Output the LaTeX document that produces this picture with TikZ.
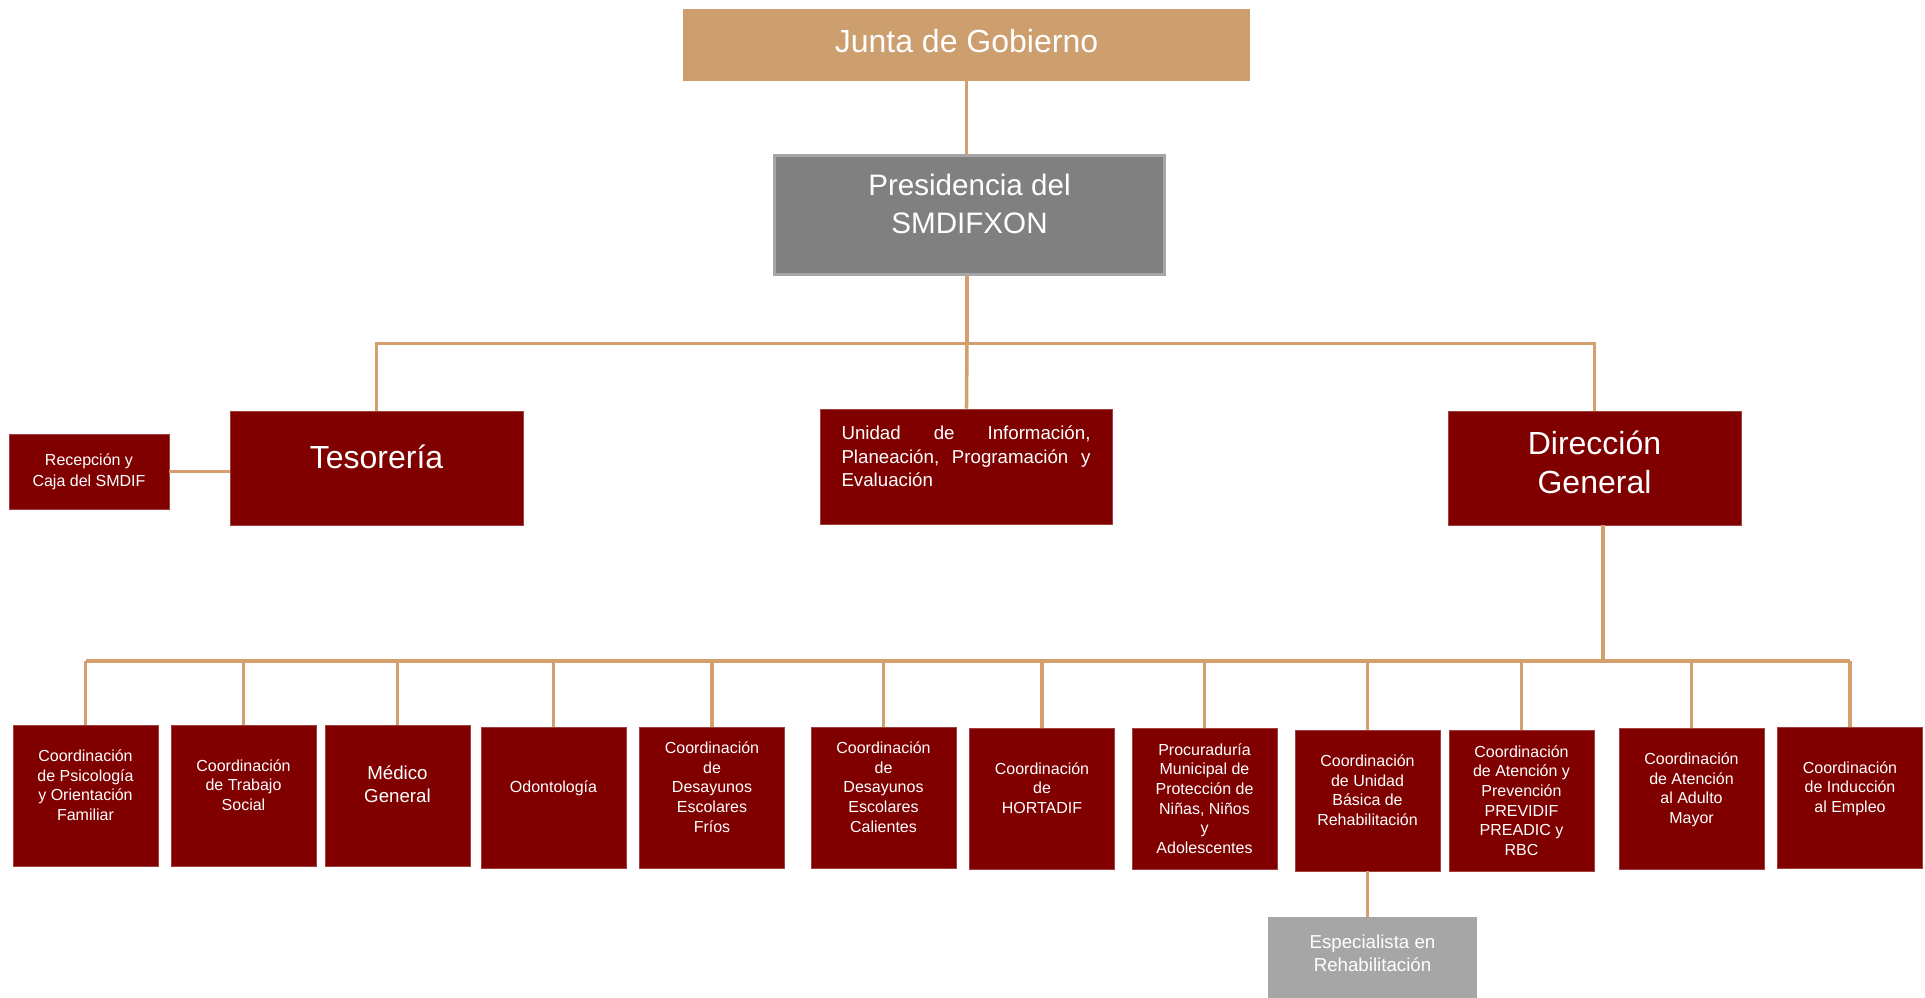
\documentclass[tikz,border=0pt]{standalone}
\usepackage{fontspec}
\setmainfont{Liberation Sans}
\usepackage{tikz}
\definecolor{ktan}{HTML}{CD9E6E}
\definecolor{klink}{HTML}{D3A06D}
\definecolor{kred}{HTML}{800000}
\definecolor{kgrey}{HTML}{808080}
\definecolor{kgreyline}{HTML}{A6A6A6}
\definecolor{kpale}{HTML}{A6A6A6}

\begin{document}
\begin{tikzpicture}[x=1pt, y=-1pt,
  link/.style={draw=klink, line width=3.5pt},
  redbox/.style={fill=kred, draw=kred!75!white, line width=0.6pt, text=white,
    align=center, inner sep=0pt},
  headbox/.style={redbox, minimum width=293pt, minimum height=114pt,
    font=\fontsize{32}{39}\selectfont},
  unitbox/.style={redbox, minimum width=145pt, minimum height=141pt,
    font=\fontsize{16}{19.7}\selectfont, text depth=21pt}]
\useasboundingbox (0,0) rectangle (1925,997);

% top levels
\node[fill=ktan, minimum width=567pt, minimum height=72pt, inner sep=0pt,
  text=white, font=\fontsize{32}{38}\selectfont, text depth=9pt]
  (junta) at (966.5,45) {Junta de Gobierno};
\node[fill=kgrey, draw=kgreyline, line width=3pt, minimum width=390pt,
  minimum height=119pt, inner sep=0pt, text=white, align=center,
  font=\fontsize{29.6}{38}\selectfont, text depth=22pt]
  (pres) at (969.5,215) {Presidencia del\\SMDIFXON};

\node[headbox, text depth=22pt] (teso) at (376.5,468) {Tesorería};
\node[redbox, minimum width=292pt, minimum height=115pt, align=left,
  text width=249pt, font=\fontsize{18.7}{23.7}\selectfont, text depth=68pt]
  (unidad) at (966,466.5)
  {Unidad\hfill de\hfill Información,\\Planeación,\hfill Programación\hfill y\\Evaluación};
\node[headbox, text depth=11pt] (dir) at (1594.5,468) {Dirección\\General};
\node[redbox, minimum width=160pt, minimum height=75pt,
  font=\fontsize{16}{21}\selectfont]
  (recep) at (89,471.5) {Recepción y\\Caja del SMDIF};

\coordinate (hub) at (967,343.5);
\coordinate (hubdg) at (1603,661);

\draw[link] (junta.south) -- (junta.south |- pres.north);
\draw[link] (pres.south -| hub) -- (hub);
\draw[link] (teso.north) |- (hub) -| (dir.north);
\draw[link] (hub) -- (unidad);
\draw[link] (recep.east) -- (recep.east -| teso.west);
\draw[link] (dir.south -| hubdg) -- (hubdg);

% areas under Direccion General
\node[unitbox] (psi) at (85.5,795.5) {Coordinación\\de Psicología\\y Orientación\\Familiar};
\node[unitbox] (tra) at (243.5,795.5) {Coordinación\\de Trabajo\\Social};
\node[unitbox, font=\fontsize{18.7}{23}\selectfont, text depth=23pt]
  (med) at (397.5,795.5) {Médico\\General};
\node[unitbox] (odo) at (553.5,797.5) {Odontología};
\node[unitbox] (fri) at (712,797.5) {Coordinación\\de\\Desayunos\\Escolares\\Fríos};
\node[unitbox] (cal) at (883.5,797.5) {Coordinación\\de\\Desayunos\\Escolares\\Calientes};
\node[unitbox] (hor) at (1042,798.5) {Coordinación\\de\\HORTADIF};
\node[unitbox, text depth=0pt] (pro) at (1204.5,798.5)
  {Procuraduría\\Municipal de\\Protección de\\Niñas, Niños\\y\\Adolescentes};
\node[unitbox] (ubr) at (1367.5,800.5) {Coordinación\\de Unidad\\Básica de\\Rehabilitación};
\node[unitbox, text depth=0pt] (pre) at (1521.5,800.5)
  {Coordinación\\de Atención y\\Prevención\\PREVIDIF\\PREADIC y\\RBC};
\node[unitbox] (adu) at (1691.5,798.5) {Coordinación\\de Atención\\al Adulto\\Mayor};
\node[unitbox] (ind) at (1850,797.5) {Coordinación\\de Inducción\\al Empleo};

\node[fill=kpale, minimum width=209pt, minimum height=83pt, inner sep=0pt,
  text=white, align=center, font=\fontsize{18.7}{23}\selectfont, text depth=10pt]
  (esp) at (1372.5,958.5) {Especialista en\\Rehabilitación};

\draw[link] (psi.north |- hubdg) -- (ind.north |- hubdg);
\foreach \n in {psi,tra,med,odo,fri,cal,hor,pro,ubr,pre,adu,ind}
  \draw[link] (\n.north) -- (\n.north |- hubdg);
\draw[link] (ubr.south) -- (ubr.south |- esp.north);
\end{tikzpicture}
\end{document}
